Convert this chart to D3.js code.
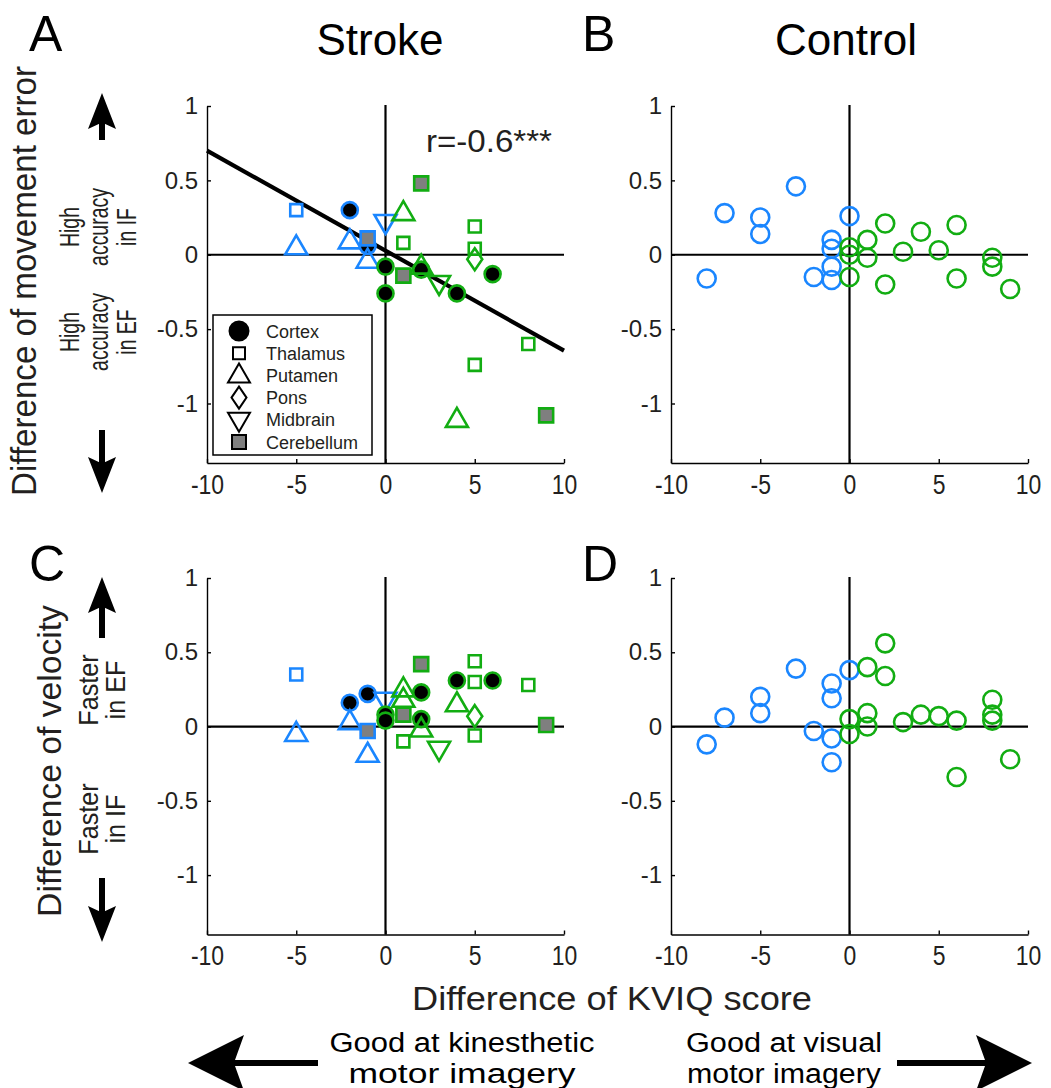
<!doctype html>
<html>
<head>
<meta charset="utf-8">
<script src="https://d3js.org/d3.v7.min.js"></script>
<style>
  body { margin: 0; background: #fff; }
  svg { display: block; font-family: "Liberation Sans", Arial, sans-serif; }
  .axis path, .axis line { stroke: #000; stroke-width: 1.4; }
  .axis text { fill: #231f20; }
</style>
</head>
<body>
<svg id="fig" width="1051" height="1088"></svg>
<script>
// ---- data -------------------------------------------------------------
var xTicks = [-10, -5, 0, 5, 10];
var yTicks = [1, 0.5, 0, -0.5, -1];
var regions = ["Cortex", "Thalamus", "Putamen", "Pons", "Midbrain", "Cerebellum"];

// stroke patients: [KVIQ difference, value, region, group] ; group k = kinesthetic (blue), v = visual (green)
var strokeError = [
  [-5, 0.30, "Thalamus", "k"], [-2, 0.30, "Cortex", "k"], [-5, 0.05, "Putamen", "k"],
  [-2, 0.09, "Putamen", "k"], [-1, 0.06, "Cortex", "k"], [-1, 0.11, "Cerebellum", "k"],
  [-1, -0.04, "Putamen", "k"], [0, 0.22, "Midbrain", "k"],
  [2, 0.48, "Cerebellum", "v"], [1, 0.28, "Putamen", "v"], [1, 0.08, "Thalamus", "v"],
  [5, 0.19, "Thalamus", "v"], [5, 0.04, "Thalamus", "v"], [5, -0.03, "Pons", "v"],
  [0, -0.08, "Cortex", "v"], [0, -0.26, "Cortex", "v"], [2, -0.10, "Cortex", "v"],
  [2, -0.08, "Putamen", "v"], [1, -0.14, "Cerebellum", "v"], [3, -0.19, "Midbrain", "v"],
  [4, -0.26, "Cortex", "v"], [6, -0.13, "Cortex", "v"], [8, -0.60, "Thalamus", "v"],
  [5, -0.74, "Thalamus", "v"], [4, -1.11, "Putamen", "v"], [9, -1.08, "Cerebellum", "v"]
];
var strokeVelocity = [
  [-5, 0.35, "Thalamus", "k"], [-5, -0.05, "Putamen", "k"], [-2, 0.16, "Cortex", "k"],
  [-1, 0.22, "Cortex", "k"], [-2, 0.03, "Putamen", "k"], [-1, -0.03, "Cerebellum", "k"],
  [-1, -0.19, "Putamen", "k"], [0, 0.18, "Midbrain", "k"],
  [0, 0.08, "Cortex", "v"], [0, 0.04, "Cortex", "v"], [1, 0.25, "Putamen", "v"],
  [1, 0.18, "Putamen", "v"], [1, 0.08, "Cerebellum", "v"], [1, -0.10, "Thalamus", "v"],
  [2, 0.23, "Cortex", "v"], [2, 0.05, "Cortex", "v"], [2, -0.02, "Putamen", "v"],
  [2, 0.42, "Cerebellum", "v"], [3, -0.15, "Midbrain", "v"], [4, 0.31, "Cortex", "v"],
  [4, 0.15, "Putamen", "v"], [5, 0.44, "Thalamus", "v"], [5, 0.30, "Thalamus", "v"],
  [5, 0.07, "Pons", "v"], [5, -0.06, "Thalamus", "v"], [6, 0.31, "Cortex", "v"],
  [8, 0.28, "Thalamus", "v"], [9, 0.01, "Cerebellum", "v"]
];
// regression line in panel A (end points at x = -10 and x = 10)
var fitX = [-10, 10];
var fitY = [0.70, -0.645];

// healthy controls: [KVIQ difference, value]
var controlErrorK = [[-8, -0.16], [-7, 0.28], [-5, 0.25], [-5, 0.14], [-3, 0.46], [-2, -0.15],
  [-1, 0.10], [-1, 0.04], [-1, -0.08], [-1, -0.17], [0, 0.26]];
var controlErrorV = [[0, 0.05], [0, 0.0], [0, -0.15], [1, 0.10], [1, -0.02], [2, 0.21],
  [2, -0.20], [3, 0.02], [4, 0.155], [5, 0.03], [6, 0.20], [6, -0.16], [8, -0.02],
  [8, -0.08], [9, -0.23]];
var controlVelK = [[-8, -0.12], [-7, 0.06], [-5, 0.20], [-5, 0.09], [-3, 0.39], [-2, -0.03],
  [-1, 0.29], [-1, 0.19], [-1, -0.08], [-1, -0.24], [0, 0.38]];
var controlVelV = [[0, 0.05], [0, -0.05], [1, 0.40], [1, 0.09], [1, 0.0], [2, 0.56],
  [2, 0.34], [3, 0.03], [4, 0.08], [5, 0.07], [6, 0.04], [6, -0.34], [8, 0.18],
  [8, 0.08], [8, 0.04], [9, -0.22]];

// ---- helpers ----------------------------------------------------------
var blue = "#1a86ff", green = "#12ad12", grey = "#7f7f7f";
var svg = d3.select("#fig");

function circlePath(r) {
  return d3.arc()({innerRadius: 0, outerRadius: r, startAngle: 0, endAngle: 2 * Math.PI});
}
function markerPath(region) {
  if (region == "Cortex") return circlePath(8);
  if (region == "Thalamus") return "M-6,-6H6V6H-6Z";
  if (region == "Cerebellum") return "M-7,-7H7V7H-7Z";
  if (region == "Putamen") return "M0,-12L11,7L-11,7Z";
  if (region == "Midbrain") return "M0,12L11,-7L-11,-7Z";
  if (region == "Pons") return "M0,-11L7.5,0L0,11L-7.5,0Z";
}
function markerFill(region) {
  if (region == "Cortex") return "#000";
  if (region == "Cerebellum") return grey;
  return "none";
}

function makePanel(x0, x1, yTop, yBot) {
  var x = d3.scaleLinear().domain([-10, 10]).range([x0, x1]);
  var y = d3.scaleLinear().domain([-1.4, 1]).range([yBot, yTop]);
  var g = svg.append("g");

  g.append("g").attr("class", "axis")
    .attr("transform", "translate(" + x0 + ",0)")
    .call(d3.axisLeft(y).tickValues(yTicks).tickSize(-4).tickSizeOuter(0).tickPadding(9)
      .tickFormat(function(d) { return String(d); }))
    .selectAll("text").style("font-size", "24px");

  var xa = g.append("g").attr("class", "axis")
    .attr("transform", "translate(0," + yBot + ")")
    .call(d3.axisBottom(x).tickValues(xTicks).tickSize(-4).tickSizeOuter(0).tickPadding(11)
      .tickFormat(function(d) { return String(d); }));
  xa.selectAll("text").style("font-size", "28px").attr("transform", "scale(0.82,1)");

  // zero lines
  g.append("line").attr("x1", x(-10)).attr("x2", x(10)).attr("y1", y(0)).attr("y2", y(0))
    .attr("stroke", "#000").attr("stroke-width", 2.2);
  g.append("line").attr("x1", x(0)).attr("x2", x(0)).attr("y1", y(1.0) - 1).attr("y2", yBot)
    .attr("stroke", "#000").attr("stroke-width", 2.2);
  return {g: g, x: x, y: y};
}

function strokePoints(p, data) {
  p.g.selectAll("path.pt").data(data).enter().append("path")
    .attr("class", "pt")
    .attr("transform", function(d) { return "translate(" + p.x(d[0]) + "," + p.y(d[1]) + ")"; })
    .attr("d", function(d) { return markerPath(d[2]); })
    .attr("fill", function(d) { return markerFill(d[2]); })
    .attr("stroke", function(d) { return d[3] == "k" ? blue : green; })
    .attr("stroke-width", 2.6);
}
function controlPoints(p, data, color) {
  p.g.append("g").selectAll("circle").data(data).enter().append("circle")
    .attr("cx", function(d) { return p.x(d[0]); })
    .attr("cy", function(d) { return p.y(d[1]); })
    .attr("r", 9).attr("fill", "none")
    .attr("stroke", color).attr("stroke-width", 2.6);
}

// ---- panels -----------------------------------------------------------
var pA = makePanel(207, 564, 106, 463);
var pB = makePanel(671, 1028, 106, 463);
var pC = makePanel(207, 564, 578, 934.5);
var pD = makePanel(671, 1028, 578, 934.5);

// fit line
pA.g.append("line")
  .attr("x1", pA.x(fitX[0])).attr("y1", pA.y(fitY[0]))
  .attr("x2", pA.x(fitX[1])).attr("y2", pA.y(fitY[1]))
  .attr("stroke", "#000").attr("stroke-width", 4.2);

strokePoints(pA, strokeError);
strokePoints(pC, strokeVelocity);
controlPoints(pB, controlErrorK, blue);
controlPoints(pB, controlErrorV, green);
controlPoints(pD, controlVelK, blue);
controlPoints(pD, controlVelV, green);

pA.g.append("text").attr("x", 426).attr("y", 152).style("font-size", "31px").attr("fill", "#231f20")
  .attr("textLength", 126).attr("lengthAdjust", "spacingAndGlyphs")
  .text("r=-0.6***");

// legend
var leg = svg.append("g").attr("transform", "translate(213,315)");
leg.append("rect").attr("width", 159).attr("height", 140).attr("fill", "#fff")
  .attr("stroke", "#000").attr("stroke-width", 1.5);
var li = leg.selectAll("g.li").data(regions).enter().append("g")
  .attr("transform", function(d, i) { return "translate(26," + (16 + i * 22.2) + ")"; });
li.append("path")
  .attr("d", function(d) { return d == "Cortex" ? circlePath(9.5) : markerPath(d); })
  .attr("fill", function(d) { return d == "Cortex" ? "#000" : (d == "Cerebellum" ? grey : "#fff"); })
  .attr("stroke", "#000").attr("stroke-width", 2);
li.append("text").attr("x", 27).attr("y", 6.5).style("font-size", "18px").attr("fill", "#231f20")
  .text(function(d) { return d; });

// ---- titles and labels ------------------------------------------------
function label(txt, x, y, size, anchor) {
  return svg.append("text").attr("x", x).attr("y", y).style("font-size", size + "px")
    .attr("text-anchor", anchor || "start").attr("fill", "#000").text(txt);
}
label("A", 29, 51, 50);
label("B", 582, 51, 50);
label("C", 29, 581, 50);
label("D", 582, 581, 50);
label("Stroke", 380, 55, 44, "middle");
label("Control", 846, 55, 44, "middle");

function vtext(lines, cy, baselines, size, sx) {
  var g = svg.append("g").attr("transform", "translate(0," + cy + ")");
  lines.forEach(function(t, i) {
    g.append("text")
      .attr("transform", "translate(" + baselines[i] + ",0) rotate(-90) scale(" + sx + ",1)")
      .attr("text-anchor", "middle").style("font-size", size + "px")
      .attr("fill", "#231f20").text(t);
  });
}
vtext(["Difference of movement error"], 281, [36], 36, 0.92);
vtext(["High", "accuracy", "in IF"], 227, [79, 108, 136], 27, 0.72);
vtext(["High", "accuracy", "in EF"], 332, [79, 108, 136], 27, 0.72);
vtext(["Difference of velocity"], 761, [61], 34, 0.99);
vtext(["Faster", "in EF"], 690, [98, 125], 28, 0.9);
vtext(["Faster", "in IF"], 819, [98, 125], 28, 0.9);

svg.append("text").attr("x", 612).attr("y", 1010).attr("text-anchor", "middle")
  .style("font-size", "34px").attr("fill", "#231f20")
  .attr("textLength", 400).attr("lengthAdjust", "spacingAndGlyphs")
  .text("Difference of KVIQ score");

function btext(t, cx, y, w) {
  svg.append("text").attr("x", cx - w / 2).attr("y", y)
    .style("font-size", "27px").attr("fill", "#000")
    .attr("textLength", w).attr("lengthAdjust", "spacingAndGlyphs").text(t);
}
btext("Good at kinesthetic", 462, 1052, 265);
btext("motor imagery", 462, 1083, 227);
btext("Good at visual", 784, 1052, 196);
btext("motor imagery", 784, 1083, 194);

// arrows: shaft from (x1,y1), tip at (x2,y2)
function arrow(x1, y1, x2, y2, head, hw, sw) {
  var a = Math.atan2(y2 - y1, x2 - x1), ux = Math.cos(a), uy = Math.sin(a);
  var bx = x2 - ux * head, by = y2 - uy * head;
  var nx = bx + ux * head * 0.18, ny = by + uy * head * 0.18;
  svg.append("line").attr("x1", x1).attr("y1", y1).attr("x2", nx + ux * 3).attr("y2", ny + uy * 3)
    .attr("stroke", "#000").attr("stroke-width", sw);
  svg.append("path")
    .attr("d", "M" + x2 + "," + y2 + "L" + (bx - uy * hw) + "," + (by + ux * hw) +
      "L" + nx + "," + ny + "L" + (bx + uy * hw) + "," + (by - ux * hw) + "Z")
    .attr("fill", "#000");
}
arrow(102, 140, 102, 93, 36, 14, 6);
arrow(102, 430, 102, 493, 36, 14, 6);
arrow(102, 638, 102, 577, 36, 14, 6);
arrow(102, 878, 102, 942, 36, 14, 6);
arrow(318, 1063, 188, 1063, 56, 28, 6);
arrow(897, 1063, 1032, 1063, 56, 28, 6);
</script>
</body>
</html>
